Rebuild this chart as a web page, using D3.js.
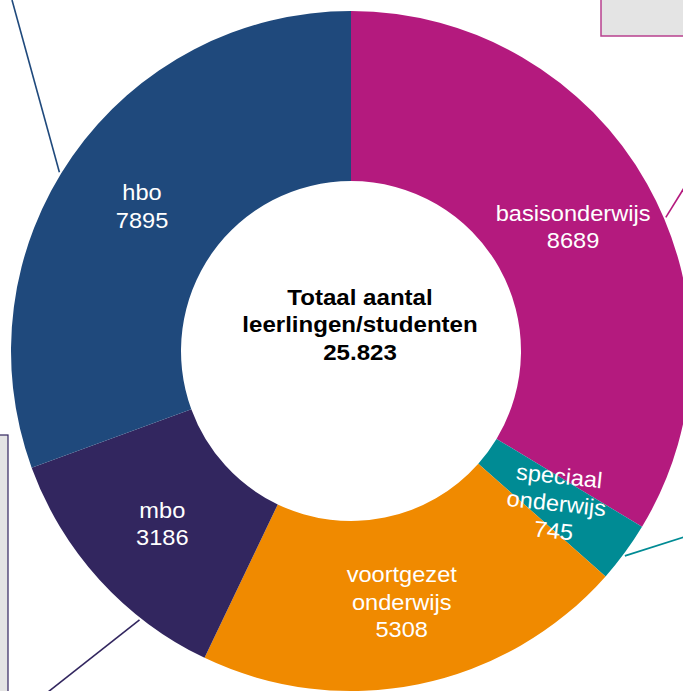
<!DOCTYPE html>
<html>
<head>
<meta charset="utf-8">
<script src="https://cdn.jsdelivr.net/npm/d3@7"></script>
<style>
  html, body { margin: 0; padding: 0; background: #fff; overflow: hidden; }
  svg { display: block; font-family: "Liberation Sans", Arial, sans-serif; }
</style>
</head>
<body>
<div id="chart"></div>
<script>
const categories = ['basisonderwijs', 'speciaal onderwijs', 'voortgezet onderwijs', 'mbo', 'hbo'];
const labelLines = [['basisonderwijs'], ['speciaal', 'onderwijs'], ['voortgezet', 'onderwijs'], ['mbo'], ['hbo']];
const values = [8689, 745, 5308, 3186, 7895];
const colors = ['#b41a7e', '#008b94', '#f08a00', '#32265f', '#1f497c'];
const centerLines = ['Totaal aantal', 'leerlingen/studenten', '25.823'];
// callout lines leading to annotation boxes (angle in degrees, clockwise from top)
const callouts = [
    { cat: 'hbo', angle: 301.5, end: [12, 0] },
    { cat: 'basisonderwijs', angle: 67, end: [684, 188] },
    { cat: 'speciaal onderwijs', angle: 126.8, end: [684, 537] },
    { cat: 'mbo', angle: 218.2, end: [48, 692] }
];

const width = 683, height = 691;
const cx = 351, cy = 351;
const outerR = 340, innerR = 170;

const svg = d3.select('#chart').append('svg')
    .attr('width', width)
    .attr('height', height);

const color = d3.scaleOrdinal().domain(categories).range(colors);

const data = categories.map((c, i) => ({ name: c, value: values[i], lines: labelLines[i] }));

const pie = d3.pie().sort(null).value(d => d.value);
const arcs = pie(data);
const arc = d3.arc().innerRadius(innerR).outerRadius(outerR);
const labelArc = d3.arc().innerRadius(255).outerRadius(255);

// annotation boxes (cropped at edges)
svg.append('rect')
    .attr('x', 601).attr('y', -2).attr('width', 90).attr('height', 38)
    .attr('fill', '#e4e4e4')
    .attr('stroke', '#b8408e').attr('stroke-width', 1.5);
svg.append('rect')
    .attr('x', -5).attr('y', 435).attr('width', 13).attr('height', 270)
    .attr('fill', '#e4e4e4')
    .attr('stroke', '#32265f').attr('stroke-width', 1.2);

const g = svg.append('g').attr('transform', `translate(${cx},${cy})`);

// callout lines
const rad = a => a * Math.PI / 180;
g.selectAll('.callout')
    .data(callouts)
    .enter().append('line')
    .attr('class', 'callout')
    .attr('x1', d => (outerR + 2) * Math.sin(rad(d.angle)))
    .attr('y1', d => -(outerR + 2) * Math.cos(rad(d.angle)))
    .attr('x2', d => d.end[0] - cx)
    .attr('y2', d => d.end[1] - cy)
    .attr('stroke', d => color(d.cat))
    .attr('stroke-width', 1.6);

g.selectAll('path.slice')
    .data(arcs)
    .enter().append('path')
    .attr('class', 'slice')
    .attr('d', arc)
    .attr('fill', d => color(d.data.name));

// slice labels
const lh = 27.5;
const labels = g.selectAll('text.lbl')
    .data(arcs)
    .enter().append('text')
    .attr('class', 'lbl')
    .attr('transform', d => {
        const [x, y] = labelArc.centroid(d);
        const rot = d.data.name === 'speciaal onderwijs' ? 6 : 0;
        return `translate(${x},${y + 1}) rotate(${rot}) scale(1.05,1)`;
    })
    .attr('text-anchor', 'middle')
    .attr('fill', '#fff')
    .style('font-size', '22.5px');

labels.each(function(d) {
    const lines = d.data.lines.concat([String(d.data.value)]);
    const t = d3.select(this);
    lines.forEach((l, i) => {
        t.append('tspan')
            .attr('x', 0)
            .attr('y', (i - (lines.length - 1) / 2) * lh + 8)
            .text(l);
    });
});

// center total
const ct = g.append('text')
    .attr('text-anchor', 'middle')
    .attr('fill', '#000')
    .attr('transform', 'translate(9,0) scale(1.07,1)')
    .style('font-size', '22.5px')
    .style('font-weight', 'bold');
centerLines.forEach((l, i) => {
    ct.append('tspan')
        .attr('x', 0)
        .attr('y', (i - 1) * 27.5 - 19)
        .text(l);
});
</script>
</body>
</html>
